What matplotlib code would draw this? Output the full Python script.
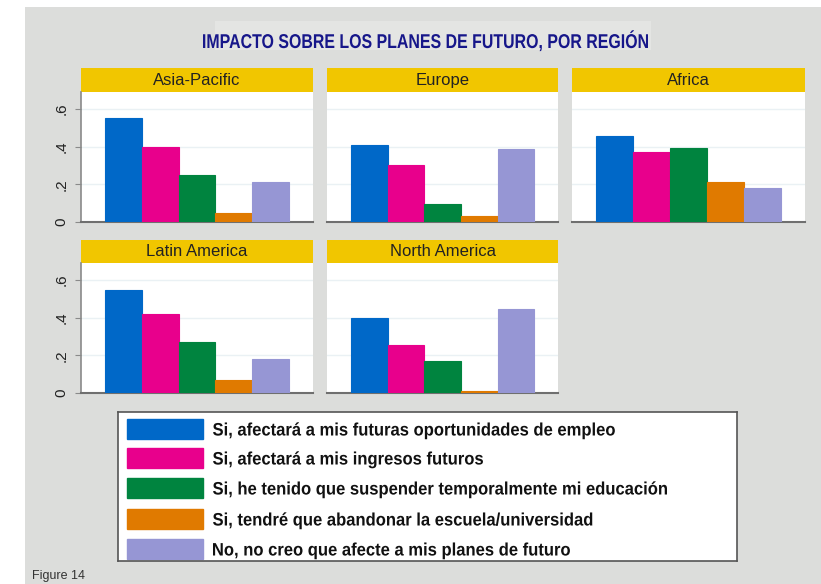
import matplotlib
matplotlib.use("Agg")
import matplotlib.pyplot as plt
from matplotlib.patches import Rectangle, PathPatch
from matplotlib.textpath import TextPath
from matplotlib.font_manager import FontProperties
from matplotlib.transforms import Affine2D

regions = ["Asia-Pacific", "Europe", "Africa", "Latin America", "North America"]
answers = [
    "Si, afectará a mis futuras oportunidades de empleo",
    "Si, afectará a mis ingresos futuros",
    "Si, he tenido que suspender temporalmente mi educación",
    "Si, tendré que abandonar la escuela/universidad",
    "No, no creo que afecte a mis planes de futuro",
]
asia_pacific = [0.55, 0.40, 0.25, 0.05, 0.214]
europe = [0.41, 0.30, 0.094, 0.03, 0.39]
africa = [0.457, 0.372, 0.395, 0.212, 0.179]
latin_america = [0.547, 0.42, 0.269, 0.069, 0.18]
north_america = [0.398, 0.257, 0.17, 0.01, 0.448]
values = [asia_pacific, europe, africa, latin_america, north_america]
yticks = [0, 0.2, 0.4, 0.6]
yticklabels = ["0", ".2", ".4", ".6"]
title = "IMPACTO SOBRE LOS PLANES DE FUTURO, POR REGIÓN"

colors = ["#0068c8", "#e8008c", "#00843f", "#e07a00", "#9696d4"]
W, H = 821, 584
fig = plt.figure(figsize=(W / 100, H / 100), dpi=100)
fig.patch.set_facecolor("white")


def box(x0, y0, x1, y1):
    # pixel box (top-left origin) -> figure rect
    return [x0 / W, 1 - y1 / H, (x1 - x0) / W, (y1 - y0) / H]


# gray background + lighter title box
fig.patches.append(Rectangle((25 / W, 0), 1, 1 - 7 / H, transform=fig.transFigure,
                             facecolor="#dcdddb", edgecolor="none", zorder=-2))
fig.patches.append(Rectangle((215 / W, 1 - 50 / H), 436 / W, 29 / H, transform=fig.transFigure,
                             facecolor="#e4e5e3", edgecolor="none", zorder=-1))

cols = [(81, 313), (327, 558), (572, 805)]
rows = [(68, 92, 222), (240, 263, 393)]

for i, (name, vals) in enumerate(zip(regions, values)):
    r, c = divmod(i, 3)
    x0, x1 = cols[c]
    s0, t0, b0 = rows[r]
    # strip
    sax = fig.add_axes(box(x0, s0, x1, t0))
    sax.set_facecolor("#f1c600")
    sax.set_xticks([]); sax.set_yticks([])
    for sp in sax.spines.values():
        sp.set_visible(False)
    sax.text(0.5, 0.48, name, ha="center", va="center", fontsize=12, color="#222222",
             family="Liberation Sans", transform=sax.transAxes)
    # plot
    ax = fig.add_axes(box(x0, t0, x1, b0))
    ax.set_facecolor("white")
    ax.bar(range(5), vals, width=1.0, color=colors, edgecolor=colors, linewidth=0.8, zorder=3)
    ax.set_xlim(-1.15, 5.15)
    ax.set_ylim(0, 0.69)
    ax.set_xticks([])
    ax.set_yticks(yticks)
    for y in yticks[1:]:
        ax.axhline(y, color="#eaf1f4", lw=1, zorder=1)
    ax.spines["top"].set_visible(False)
    ax.spines["right"].set_visible(False)
    ax.spines["bottom"].set_color("#6f6f6f")
    ax.spines["bottom"].set_linewidth(1.5)
    if c == 0:
        ax.spines["left"].set_color("#8a8a8a")
        ax.spines["left"].set_linewidth(1.2)
        ax.set_yticklabels(yticklabels, rotation=90, va="center", fontsize=11,
                           color="#222222", family="Liberation Sans")
        ax.tick_params(axis="y", length=4, color="#8a8a8a", pad=5)
    else:
        ax.spines["left"].set_visible(False)
        ax.tick_params(axis="y", length=0, labelleft=False)

# legend box
lax = fig.add_axes(box(118, 412, 737, 561))
lax.set_xlim(118, 737)
lax.set_ylim(561, 412)
lax.set_xticks([]); lax.set_yticks([])
lax.set_facecolor("white")
for sp in lax.spines.values():
    sp.set_color("#555555")
    sp.set_linewidth(1.2)
row_y = [429, 458, 488, 519, 549]
for y, col in zip(row_y, colors):
    lax.add_patch(Rectangle((127, y - 10), 76, 20, facecolor=col, edgecolor=col))

# overlay in pixel coordinates for condensed (narrow) text
ov = fig.add_axes([0, 0, 1, 1], zorder=10)
ov.set_xlim(0, W)
ov.set_ylim(H, 0)
ov.axis("off")
bold = FontProperties(family="Liberation Sans", weight="bold")


def narrow(s, x, baseline, px, sx, color, ha="left"):
    tp = TextPath((0, 0), s, size=px, prop=bold)
    ext = tp.get_extents()
    w = ext.width * sx
    left = x - w / 2 if ha == "center" else x
    tr = Affine2D().scale(sx, -1).translate(left - ext.x0 * sx, baseline) + ov.transData
    ov.add_patch(PathPatch(tp, transform=tr, facecolor=color, edgecolor="none"))


def width_of(s, px):
    return TextPath((0, 0), s, size=px, prop=bold).get_extents().width


tpx = 20
narrow(title, 425.5, 48, tpx, 445 / width_of(title, tpx), "#17178a", ha="center")

lpx = 18
lsx = 454 / width_of(answers[2], lpx)
for y, lab in zip(row_y, answers):
    narrow(lab, 213, y + 6.5, lpx, lsx, "#111111")

fig.text(32 / W, 1 - 576 / H, "Figure 14", ha="left", va="center", fontsize=9,
         color="#333333", family="Liberation Sans")

fig.savefig("out.png", dpi=100)
